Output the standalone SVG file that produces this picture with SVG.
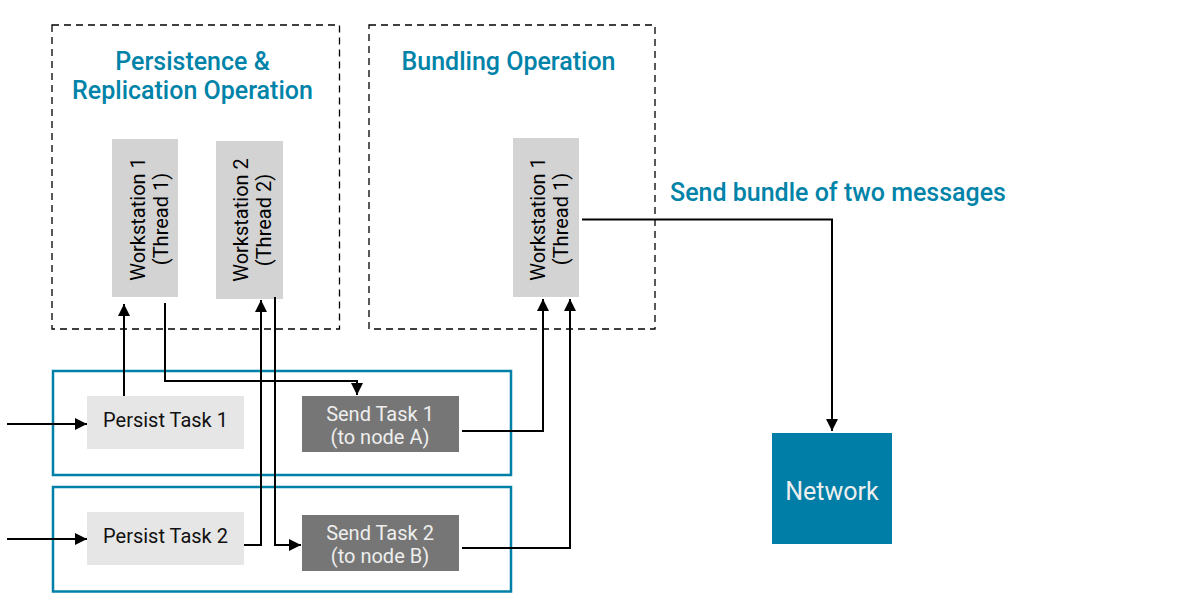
<svg xmlns="http://www.w3.org/2000/svg" width="1189" height="609" viewBox="0 0 1189 609">
<defs>
<marker id="ah" markerUnits="userSpaceOnUse" markerWidth="12" markerHeight="12" refX="10" refY="5" orient="auto" viewBox="0 0 10 10">
<path d="M0,0 L10,5 L0,10 z" fill="#000"/>
</marker>
<style>
.dash{fill:none;stroke:#000;stroke-width:1.3;stroke-dasharray:7 5}
.frame{fill:none;stroke:#0080A6;stroke-width:2.5}
.title{font-family:Roboto,"Liberation Sans",sans-serif;font-weight:500;font-size:25px;fill:#0083A8}
.ws{fill:#D3D3D3}
.wst{font-family:Roboto,"Liberation Sans",sans-serif;font-size:20px;fill:#000;text-anchor:middle}
.persist{fill:#E6E6E6}
.pt{font-family:Roboto,"Liberation Sans",sans-serif;font-size:20px;fill:#111;text-anchor:middle}
.send{fill:#767676}
.st{font-family:Roboto,"Liberation Sans",sans-serif;font-size:20px;fill:#EEEEEE;text-anchor:middle}
.net{fill:#007EA7}
.nt{font-family:Roboto,"Liberation Sans",sans-serif;font-size:25px;fill:#EEEEEE;text-anchor:middle}
.conn{fill:none;stroke:#000;stroke-width:2}
</style>
</defs>
<rect width="1189" height="609" fill="#fff"/>

<g id="persistence-group">
<rect class="dash" x="52" y="25" width="287.5" height="304"/>
<text class="title" x="192.5" y="70" text-anchor="middle">Persistence &amp;</text>
<text class="title" x="192.5" y="99" text-anchor="middle">Replication Operation</text>
</g>

<g id="bundling-group">
<rect class="dash" x="369" y="25" width="286" height="304"/>
<text class="title" x="508.5" y="70" text-anchor="middle">Bundling Operation</text>
</g>

<g id="task-frame-1"><rect class="frame" x="53" y="371" width="458" height="104"/></g>
<g id="task-frame-2"><rect class="frame" x="53" y="487" width="458" height="104.5"/></g>

<g id="ws1">
<rect class="ws" x="112" y="139" width="66" height="158"/>
<g transform="translate(145,219) rotate(-90)">
<text class="wst" x="0" y="0">Workstation 1</text>
<text class="wst" x="0" y="23">(Thread 1)</text>
</g>
</g>

<g id="ws2">
<rect class="ws" x="216" y="141" width="67" height="158"/>
<g transform="translate(248,220) rotate(-90)">
<text class="wst" x="0" y="0">Workstation 2</text>
<text class="wst" x="0" y="23">(Thread 2)</text>
</g>
</g>

<g id="ws-bundle">
<rect class="ws" x="513" y="138" width="66" height="159"/>
<g transform="translate(545,219) rotate(-90)">
<text class="wst" x="0" y="0">Workstation 1</text>
<text class="wst" x="0" y="23">(Thread 1)</text>
</g>
</g>

<g id="persist1">
<rect class="persist" x="87" y="396" width="157" height="53"/>
<text class="pt" x="165.5" y="426.5">Persist Task 1</text>
</g>

<g id="persist2">
<rect class="persist" x="87" y="512" width="157" height="53"/>
<text class="pt" x="165.5" y="542.5">Persist Task 2</text>
</g>

<g id="send1">
<rect class="send" x="302" y="396" width="157" height="56"/>
<text class="st" x="380" y="420.5">Send Task 1</text>
<text class="st" x="380" y="443.5">(to node A)</text>
</g>

<g id="send2">
<rect class="send" x="302" y="515" width="157" height="56"/>
<text class="st" x="380" y="540">Send Task 2</text>
<text class="st" x="380" y="563">(to node B)</text>
</g>

<g id="network">
<rect class="net" x="772" y="433" width="120" height="111"/>
<text class="nt" x="832" y="500">Network</text>
</g>

<g id="label-bundle">
<text class="title" x="670" y="201">Send bundle of two messages</text>
</g>

<g id="connectors">
<path class="conn" d="M7,424 H87" marker-end="url(#ah)"/>
<path class="conn" d="M7,539 H87" marker-end="url(#ah)"/>
<path class="conn" d="M124,396 V304" marker-end="url(#ah)"/>
<path class="conn" d="M165,303 V381 H357 V395" marker-end="url(#ah)"/>
<path class="conn" d="M244,545 H261 V300" marker-end="url(#ah)"/>
<path class="conn" d="M275,297 V545 H301" marker-end="url(#ah)"/>
<path class="conn" d="M462,431 H543 V299" marker-end="url(#ah)"/>
<path class="conn" d="M462,548 H570 V299" marker-end="url(#ah)"/>
<path class="conn" d="M582,219.5 H832 V431" marker-end="url(#ah)"/>
</g>
</svg>
